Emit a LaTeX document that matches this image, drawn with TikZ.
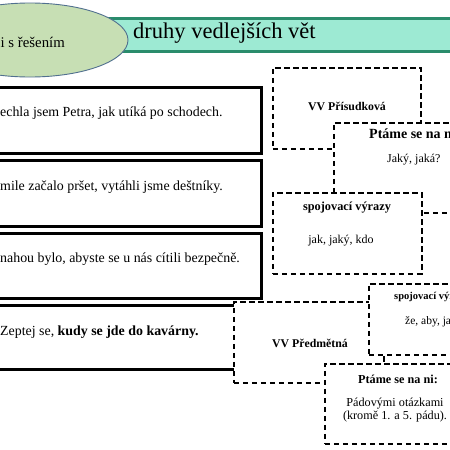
\documentclass[tikz,border=0pt]{standalone}
\usepackage{fontspec}
\setmainfont{Liberation Serif}
\usetikzlibrary{shapes, positioning}

\definecolor{ovalgreen}{HTML}{C7DFB4}
\definecolor{ovalline}{HTML}{51708F}
\definecolor{barfill}{HTML}{9DEAD3}
\definecolor{barline}{HTML}{2A8C6C}

\tikzset{
  sentbox/.style={draw, rectangle, line width=2.7pt, fill=white, inner sep=0pt, anchor=north west},
  dashbox/.style={draw, rectangle, line width=1.7pt, dash pattern=on 5.5pt off 3.5pt, fill=white, inner sep=0pt, anchor=north west},
  senttext/.style={anchor=west, inner sep=0pt, font=\fontsize{13.9}{16}\selectfont},
  headtext/.style={inner sep=0pt, font=\fontsize{11.8}{14}\selectfont\bfseries},
  bodytext/.style={inner sep=0pt, align=center, font=\fontsize{12.2}{13}\selectfont}
}

\begin{document}
\begin{tikzpicture}[x=1pt, y=-1pt]
    \useasboundingbox (0,0) rectangle (450,450);
    \clip (0,0) rectangle (450,450);
    \fill[white] (0,0) rectangle (450,450);

    % heading
    \node (bar) [draw=barline, fill=barfill, line width=2.5pt, rectangle, inner sep=0pt, anchor=north west,
        minimum width=420pt, minimum height=33pt] at (70,17) {};
    \node (title) [anchor=west, inner sep=0pt, font=\fontsize{22.5}{26}\selectfont] at (133,33) {druhy vedlejších vět};
    \node (oval) [ellipse, draw=ovalline, fill=ovalgreen, line width=0.9pt, inner sep=0pt,
        minimum width=196pt, minimum height=74pt] at (30,40) {};
    \node (ovaltext) [anchor=west, inner sep=0pt, font=\fontsize{14.8}{17}\selectfont] at (0.5,42) {i s řešením};

    % sentences
    \node (s1) [sentbox, minimum width=320pt, minimum height=66pt] at (-60,86) {};
    \node (s1t) [senttext] at (0,113) {echla jsem Petra, jak utíká po schodech.};
    \node (s2) [sentbox, minimum width=320pt, minimum height=66pt] at (-60,159) {};
    \node (s2t) [senttext] at (0,187) {mile začalo pršet, vytáhli jsme deštníky.};
    \node (s3) [sentbox, minimum width=320pt, minimum height=65pt] at (-60,232) {};
    \node (s3t) [senttext] at (0,259) {nahou bylo, abyste se u nás cítili bezpečně.};

    % VV prisudkova
    \node (pris) [dashbox, minimum width=148pt, minimum height=81pt] at (272,67) {};
    \node (prist) [headtext] at (347,106) {VV Přísudková};
    \node (ptam1) [dashbox, minimum width=170pt, minimum height=90pt] at (333,122) {};
    \node (ptam1h) [headtext, font=\fontsize{14}{16}\selectfont\bfseries, anchor=west] at (369,134) {Ptáme se na ni:};
    \node (ptam1b) [bodytext, font=\fontsize{12}{14}\selectfont, anchor=west] at (387,160) {Jaký, jaká?};
    \node (spoj1) [dashbox, minimum width=149pt, minimum height=81pt] at (272,192) {};
    \node (spoj1h) [headtext, font=\fontsize{12.3}{14}\selectfont\bfseries] at (347,208) {spojovací výrazy};
    \node (spoj1b) [bodytext, font=\fontsize{12}{14}\selectfont] at (341,241) {jak, jaký, kdo};

    % last sentence
    \node (s4) [sentbox, minimum width=300pt, minimum height=64pt] at (-60,304) {};
    \node (s4t) [senttext] at (0,332) {Zeptej se, \textbf{kudy se jde do kavárny.}};

    % VV predmetna
    \node (pred) [dashbox, minimum width=150pt, minimum height=81pt] at (233,301) {};
    \node (predt) [headtext] at (310,343) {VV Předmětná};
    \node (spoj2) [dashbox, minimum width=130pt, minimum height=71pt] at (368,283) {};
    \node (spoj2h) [headtext, font=\fontsize{10.5}{12}\selectfont\bfseries, anchor=west] at (394,297) {spojovací výrazy};
    \node (spoj2b) [bodytext, font=\fontsize{11.5}{13}\selectfont, anchor=west] at (405,322) {že, aby, jak};
    \node (ptam2) [dashbox, minimum width=150pt, minimum height=80pt] at (324,363) {};
    \node (ptam2h) [headtext, font=\fontsize{12.2}{14}\selectfont\bfseries] at (398,379) {Ptáme se na ni:};
    \node (ptam2b) [bodytext] at (395,410.5) {Pádovými otázkami\\(kromě 1. a 5. pádu).};
\end{tikzpicture}
\end{document}
